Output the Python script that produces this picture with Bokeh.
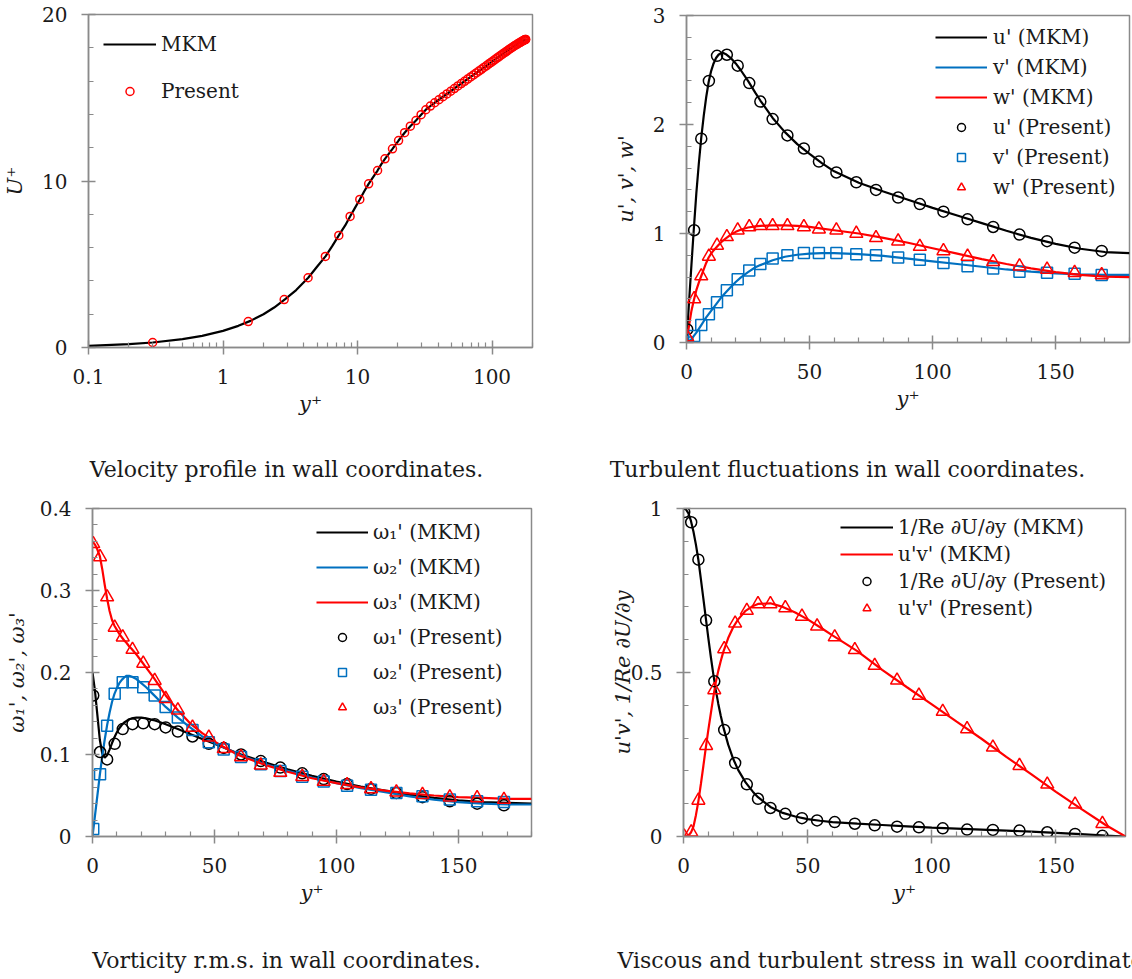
from bokeh.plotting import figure
from bokeh.layouts import column, row
from bokeh.models import FixedTicker, CustomJSTickFormatter, Legend, LegendItem, Label
from bokeh.embed import file_html
from bokeh.resources import INLINE

FONT = "DejaVu Serif"
BLACK = "#000000"
BLUE = "#0070C0"
RED = "#FF0000"
GRAY = "#8a8a8a"
TEXT = "#1a1a1a"

# ---------------- mean velocity profile ----------------
u_mkm_y = [0.1, 0.2, 0.3, 0.5, 0.7, 1.0, 1.3, 1.6, 2.0, 2.4, 2.9, 3.5, 4.3, 5.0, 5.8, 6.5,
           7.3, 8.1, 8.8, 9.6, 10.4, 11.2, 12.1, 13.1, 14.1, 15.0, 16.0, 18.2, 20.2, 22.4,
           24.7, 27.2, 29.7, 32.2, 37.5, 43.2, 49.3, 55.8, 62.5, 69.4, 76.4, 83.5, 90.7,
           97.9, 105.1, 112.3, 119.5, 126.7, 133.9, 141.1, 148.3, 155.5, 162.4, 168.8,
           174.1, 178.0]
u_mkm = [0.1, 0.2, 0.3, 0.5, 0.7, 1.0, 1.3, 1.6, 2.0, 2.4, 2.9, 3.45, 4.19, 4.85, 5.49, 6.1,
         6.76, 7.33, 7.87, 8.4, 8.89, 9.37, 9.83, 10.25, 10.63, 11.0, 11.33, 11.93, 12.43,
         12.9, 13.29, 13.63, 13.98, 14.28, 14.7, 15.06, 15.39, 15.71, 15.99, 16.25, 16.49,
         16.71, 16.92, 17.11, 17.29, 17.46, 17.62, 17.76, 17.9, 18.02, 18.14, 18.24, 18.33,
         18.41, 18.47, 18.5]
u_pre_y = [0.30, 1.54, 2.85, 4.29, 5.77, 7.26, 8.81, 10.4, 12.1, 14.1, 16.0, 18.2, 20.2,
           22.4, 24.7, 27.2, 29.7, 32.2, 34.8, 37.5, 40.3, 43.2, 46.2, 49.3, 52.5, 55.8,
           59.1, 62.5, 65.9, 69.4, 72.9, 76.4, 79.9, 83.5, 87.1, 90.7, 94.3, 97.9, 101.5,
           105.1, 108.7, 112.3, 115.9, 119.5, 123.1, 126.7, 130.3, 133.9, 137.5, 141.1,
           144.7, 148.3, 151.9, 155.5, 159.0, 162.4, 165.7, 168.8, 171.6, 174.1, 176.1,
           177.4, 178.0]
u_pre = [0.30, 1.56, 2.88, 4.19, 5.47, 6.73, 7.87, 8.89, 9.83, 10.63, 11.33, 11.93, 12.43,
         12.90, 13.29, 13.63, 13.98, 14.28, 14.5, 14.7, 14.88, 15.06, 15.23, 15.39, 15.55,
         15.71, 15.85, 15.99, 16.12, 16.25, 16.37, 16.49, 16.6, 16.71, 16.82, 16.92, 17.02,
         17.11, 17.2, 17.29, 17.38, 17.46, 17.54, 17.62, 17.69, 17.76, 17.83, 17.9, 17.96,
         18.02, 18.08, 18.14, 18.19, 18.24, 18.29, 18.33, 18.37, 18.41, 18.44, 18.47, 18.49,
         18.5, 18.5]

# ---------------- wall-normal stations ----------------
# reference (MKM) curves
ym = [0, 1, 2, 3, 4, 5, 6, 7, 8, 9, 10, 11, 12, 13, 14, 15, 16, 18, 20, 22, 25, 28, 30, 35,
      40, 45, 50, 55, 60, 70, 80, 90, 100, 110, 120, 130, 140, 150, 160, 170, 180]
ys = [0, 1, 2, 3, 4, 5, 6, 7, 8, 9, 10, 11, 12, 13, 14, 15, 16, 18, 20, 22, 25, 28, 30, 35,
      40, 45, 50, 55, 60, 70, 80, 90, 100, 110, 120, 130, 140, 150, 160, 170, 178]
# present simulation
yp = [0.3, 3.1, 6.0, 9.1, 12.4, 16.4, 20.8, 25.5, 30.0, 35.0, 41.0, 47.7, 53.8, 60.9, 69.0,
      77.0, 86.0, 94.8, 104.4, 114.2, 124.6, 135.3, 146.5, 157.7, 168.7]

# ---------------- velocity fluctuations ----------------
u_rms_mkm = [0, 0.36, 0.71, 1.05, 1.37, 1.64, 1.88, 2.08, 2.25, 2.39, 2.49, 2.56, 2.61, 2.64,
             2.655, 2.655, 2.645, 2.61, 2.56, 2.5, 2.4, 2.29, 2.22, 2.06, 1.93, 1.82, 1.73,
             1.645, 1.57, 1.465, 1.385, 1.31, 1.235, 1.165, 1.095, 1.025, 0.96, 0.905, 0.86,
             0.83, 0.82]
v_rms_mkm = [0, 0.01, 0.03, 0.06, 0.09, 0.125, 0.16, 0.195, 0.23, 0.26, 0.29, 0.32, 0.35,
             0.38, 0.41, 0.435, 0.46, 0.51, 0.555, 0.595, 0.645, 0.69, 0.71, 0.755, 0.787,
             0.805, 0.815, 0.82, 0.82, 0.81, 0.795, 0.77, 0.745, 0.72, 0.695, 0.67, 0.65,
             0.635, 0.625, 0.62, 0.62]
w_rms_mkm = [0, 0.15, 0.29, 0.39, 0.48, 0.55, 0.61, 0.67, 0.73, 0.78, 0.815, 0.845, 0.87,
             0.895, 0.918, 0.938, 0.956, 0.99, 1.015, 1.035, 1.055, 1.065, 1.07, 1.075, 1.075,
             1.07, 1.06, 1.045, 1.03, 1.0, 0.96, 0.915, 0.865, 0.815, 0.765, 0.72, 0.68,
             0.645, 0.62, 0.605, 0.6]
u_rms_pre = [0.12, 1.03, 1.87, 2.40, 2.63, 2.64, 2.54, 2.38, 2.21, 2.05, 1.90, 1.78, 1.66,
             1.56, 1.47, 1.40, 1.33, 1.27, 1.20, 1.13, 1.06, 0.99, 0.93, 0.87, 0.84]
v_rms_pre = [0.00, 0.06, 0.16, 0.26, 0.37, 0.48, 0.58, 0.66, 0.72, 0.77, 0.80, 0.82, 0.82,
             0.82, 0.81, 0.80, 0.78, 0.76, 0.73, 0.70, 0.68, 0.65, 0.64, 0.63, 0.62]
w_rms_pre = [0.05, 0.40, 0.61, 0.79, 0.89, 0.97, 1.03, 1.06, 1.07, 1.07, 1.07, 1.06, 1.04,
             1.03, 1.00, 0.96, 0.93, 0.88, 0.84, 0.79, 0.74, 0.70, 0.67, 0.64, 0.62]

# ---------------- vorticity fluctuations ----------------
om1_mkm = [0.2, 0.178, 0.148, 0.118, 0.101, 0.096, 0.099, 0.106, 0.114, 0.121, 0.127, 0.132,
           0.136, 0.139, 0.141, 0.143, 0.144, 0.145, 0.145, 0.144, 0.142, 0.139, 0.137,
           0.131, 0.125, 0.119, 0.113, 0.107, 0.101, 0.091, 0.082, 0.074, 0.067, 0.061,
           0.056, 0.051, 0.047, 0.044, 0.042, 0.041, 0.04]
om2_mkm = [0.0, 0.025, 0.05, 0.075, 0.098, 0.118, 0.136, 0.151, 0.164, 0.174, 0.181, 0.187,
           0.191, 0.194, 0.196, 0.196, 0.195, 0.192, 0.187, 0.182, 0.173, 0.164, 0.158,
           0.145, 0.133, 0.122, 0.114, 0.107, 0.1, 0.089, 0.08, 0.072, 0.065, 0.059, 0.054,
           0.049, 0.045, 0.042, 0.04, 0.039, 0.039]
om3_mkm = [0.36, 0.356, 0.35, 0.342, 0.326, 0.307, 0.29, 0.275, 0.264, 0.257, 0.252, 0.247,
           0.243, 0.239, 0.236, 0.232, 0.229, 0.222, 0.214, 0.206, 0.194, 0.181, 0.172,
           0.154, 0.138, 0.126, 0.116, 0.107, 0.099, 0.088, 0.079, 0.071, 0.065, 0.06,
           0.056, 0.0525, 0.05, 0.048, 0.047, 0.046, 0.046]
om1_pre = [0.172, 0.103, 0.094, 0.113, 0.131, 0.137, 0.138, 0.137, 0.133, 0.128, 0.122,
           0.113, 0.108, 0.100, 0.092, 0.084, 0.077, 0.070, 0.064, 0.058, 0.053, 0.048,
           0.043, 0.040, 0.038]
om2_pre = [0.009, 0.076, 0.135, 0.174, 0.188, 0.188, 0.182, 0.172, 0.158, 0.145, 0.130,
           0.115, 0.106, 0.097, 0.088, 0.080, 0.073, 0.067, 0.062, 0.057, 0.053, 0.049,
           0.045, 0.043, 0.042]
om3_pre = [0.357, 0.341, 0.292, 0.255, 0.243, 0.228, 0.211, 0.190, 0.168, 0.154, 0.133,
           0.121, 0.107, 0.097, 0.087, 0.078, 0.073, 0.067, 0.063, 0.058, 0.054, 0.051,
           0.048, 0.047, 0.045]

# ---------------- shear stress budget ----------------
visc_mkm = [1.0, 0.997, 0.985, 0.962, 0.93, 0.89, 0.843, 0.785, 0.725, 0.665, 0.605, 0.548,
            0.495, 0.447, 0.405, 0.368, 0.335, 0.28, 0.237, 0.203, 0.165, 0.136, 0.12, 0.09,
            0.072, 0.061, 0.053, 0.048, 0.044, 0.039, 0.035, 0.031, 0.027, 0.024, 0.021,
            0.018, 0.015, 0.011, 0.007, 0.003, 0.0]
uv_mkm = [0.0, 0.0, 0.003, 0.012, 0.03, 0.065, 0.108, 0.16, 0.215, 0.272, 0.325, 0.375,
          0.425, 0.47, 0.505, 0.535, 0.562, 0.605, 0.638, 0.662, 0.688, 0.703, 0.709, 0.711,
          0.7, 0.683, 0.662, 0.638, 0.613, 0.565, 0.508, 0.455, 0.403, 0.35, 0.298, 0.243,
          0.19, 0.136, 0.085, 0.035, 0.0]
visc_pre = [0.989, 0.958, 0.844, 0.659, 0.473, 0.325, 0.224, 0.159, 0.115, 0.087, 0.069,
            0.056, 0.049, 0.044, 0.039, 0.034, 0.030, 0.028, 0.025, 0.021, 0.020, 0.018,
            0.013, 0.008, 0.002]
uv_pre = [0.0, 0.013, 0.11, 0.277, 0.447, 0.572, 0.650, 0.689, 0.709, 0.709, 0.697, 0.671,
          0.641, 0.608, 0.569, 0.521, 0.476, 0.430, 0.381, 0.328, 0.272, 0.216, 0.159,
          0.098, 0.039]

captions = ["Velocity profile in wall coordinates.",
            "Turbulent fluctuations in wall coordinates.",
            "Vorticity r.m.s. in wall coordinates.",
            "Viscous and turbulent stress in wall coordinates."]

fmt_code = "return String(Math.round(tick * 1000) / 1000);"


def make_fig(x_range, y_range, borders, height, x_axis_type="linear"):
    left, right, top, bottom = borders
    return figure(width=566, height=height, x_range=x_range, y_range=y_range,
                  x_axis_type=x_axis_type, output_backend="svg", toolbar_location=None,
                  min_border_left=left, min_border_right=right,
                  min_border_top=top, min_border_bottom=bottom,
                  background_fill_color="white", border_fill_color="white")


def style(p, xlabel, ylabel, xticks, xminor, yticks, yminor, ylabel_standoff, xlabel_standoff):
    p.grid.visible = False
    p.outline_line_color = GRAY
    p.outline_line_width = 1.5
    for ax in (p.xaxis[0], p.yaxis[0]):
        ax.axis_line_color = GRAY
        ax.axis_line_width = 1.5
        ax.major_tick_line_color = GRAY
        ax.major_tick_line_width = 1.5
        ax.minor_tick_line_color = GRAY
        ax.minor_tick_line_width = 1.2
        ax.major_tick_in = 7
        ax.major_tick_out = 7
        ax.minor_tick_in = 5
        ax.minor_tick_out = 0
        ax.major_label_text_font = FONT
        ax.major_label_text_font_size = "20px"
        ax.major_label_text_color = TEXT
        ax.major_label_standoff = 14
        ax.axis_label_text_font = FONT
        ax.axis_label_text_font_style = "italic"
        ax.axis_label_text_font_size = "21px"
        ax.axis_label_text_color = TEXT
        ax.formatter = CustomJSTickFormatter(code=fmt_code)
    p.xaxis[0].axis_label = xlabel
    p.yaxis[0].axis_label = ylabel
    p.xaxis[0].axis_label_standoff = xlabel_standoff
    p.yaxis[0].axis_label_standoff = ylabel_standoff
    p.xaxis[0].ticker = FixedTicker(ticks=xticks, minor_ticks=xminor)
    p.yaxis[0].ticker = FixedTicker(ticks=yticks, minor_ticks=yminor)


def add_legend(p, items, loc, glyph_w, gap, standoff):
    leg = Legend(items=items, location=loc, orientation="vertical",
                 glyph_width=glyph_w, glyph_height=20, label_height=20,
                 spacing=gap, label_standoff=standoff, padding=0, margin=0,
                 border_line_color=None, background_fill_alpha=0,
                 label_text_font=FONT, label_text_font_size="20px",
                 label_text_color=TEXT)
    p.add_layout(leg)


def caption_strip(text, x, baseline, align="center"):
    c = figure(width=566, height=50, x_range=(0, 1), y_range=(0, 1),
               x_axis_location=None, y_axis_location=None, output_backend="svg",
               toolbar_location=None, min_border_left=0, min_border_right=0,
               min_border_top=0, min_border_bottom=0, outline_line_color=None,
               border_fill_color="white", background_fill_color="white")
    c.grid.visible = False
    c.add_layout(Label(x=x, y=baseline, x_units="screen", y_units="screen", text=text,
                       text_align=align, text_baseline="alphabetic", text_font=FONT,
                       text_font_size="22px", text_color=TEXT))
    return c


lin10 = [v for v in range(0, 181, 10) if v % 50 != 0]

# ---- panel 1: U+ (log axis) ----
p1 = make_fig((0.1, 200), (0, 20), (87, 34, 14, 93), 440, x_axis_type="log")
log_minor = [m * d for d in (0.1, 1, 10) for m in range(2, 10)] + [200]
style(p1, "y⁺", "U⁺", [0.1, 1, 10, 100], log_minor, [0, 10, 20], [2, 4, 6, 8, 12, 14, 16, 18],
      12, 5)
l1 = p1.line(u_mkm_y, u_mkm, line_color=BLACK, line_width=2.2)
s1 = p1.scatter(u_pre_y, u_pre, marker="circle", size=8, fill_color=None, line_color=RED,
                line_width=1.5)
add_legend(p1, [LegendItem(label="MKM", renderers=[l1]),
                LegendItem(label="Present", renderers=[s1])], (15, 244), 53, 23, 5)

# ---- panel 2: velocity fluctuations ----
p2 = make_fig((0, 180), (0, 3), (120, 3, 15, 98), 440)
style(p2, "y⁺", "u', v', w'", [0, 50, 100, 150], lin10, [0, 1, 2, 3],
      [0.2, 0.4, 0.6, 0.8, 1.2, 1.4, 1.6, 1.8, 2.2, 2.4, 2.6, 2.8], 12, 5)
lu = p2.line(ym, u_rms_mkm, line_color=BLACK, line_width=2.2)
lv = p2.line(ym, v_rms_mkm, line_color=BLUE, line_width=2.2)
lw = p2.line(ym, w_rms_mkm, line_color=RED, line_width=2.2)
su = p2.scatter(yp, u_rms_pre, marker="circle", size=11, fill_color=None, line_color=BLACK,
                line_width=1.5)
sv = p2.scatter(yp, v_rms_pre, marker="square", size=11, fill_color=None, line_color=BLUE,
                line_width=1.5)
sw = p2.scatter(yp, w_rms_pre, marker="triangle", size=13, fill_color=None, line_color=RED,
                line_width=1.5)
add_legend(p2, [LegendItem(label="u' (MKM)", renderers=[lu]),
                LegendItem(label="v' (MKM)", renderers=[lv]),
                LegendItem(label="w' (MKM)", renderers=[lw]),
                LegendItem(label="u' (Present)", renderers=[su]),
                LegendItem(label="v' (Present)", renderers=[sv]),
                LegendItem(label="w' (Present)", renderers=[sw])], (249, 143), 52, 6, 6)

# ---- panel 3: vorticity fluctuations ----
p3 = make_fig((0, 180), (0, 0.4), (92, 35, 18, 93), 439)
om_minor = [0.02, 0.04, 0.06, 0.08, 0.12, 0.14, 0.16, 0.18, 0.22, 0.24, 0.26, 0.28,
            0.32, 0.34, 0.36, 0.38]
style(p3, "y⁺", "ω₁', ω₂', ω₃'", [0, 50, 100, 150], lin10, [0, 0.1, 0.2, 0.3, 0.4],
      om_minor, 8, 5)
lo1 = p3.line(ym, om1_mkm, line_color=BLACK, line_width=2.2)
lo2 = p3.line(ym, om2_mkm, line_color=BLUE, line_width=2.2)
lo3 = p3.line(ym, om3_mkm, line_color=RED, line_width=2.2)
so1 = p3.scatter(yp, om1_pre, marker="circle", size=11, fill_color=None, line_color=BLACK,
                 line_width=1.5)
so2 = p3.scatter(yp, om2_pre, marker="square", size=11, fill_color=None, line_color=BLUE,
                 line_width=1.5)
so3 = p3.scatter(yp, om3_pre, marker="triangle", size=13, fill_color=None, line_color=RED,
                 line_width=1.5)
add_legend(p3, [LegendItem(label="ω₁' (MKM)", renderers=[lo1]),
                LegendItem(label="ω₂' (MKM)", renderers=[lo2]),
                LegendItem(label="ω₃' (MKM)", renderers=[lo3]),
                LegendItem(label="ω₁' (Present)", renderers=[so1]),
                LegendItem(label="ω₂' (Present)", renderers=[so2]),
                LegendItem(label="ω₃' (Present)", renderers=[so3])], (224, 117), 52, 11, 5)

# ---- panel 4: viscous and turbulent stress ----
p4 = make_fig((0, 178), (0, 1), (117, 7, 18, 93), 439)
style(p4, "y⁺", "u'v', 1/Re ∂U/∂y", [0, 50, 100, 150], lin10, [0, 0.5, 1],
      [0.1, 0.2, 0.3, 0.4, 0.6, 0.7, 0.8, 0.9], -7, 5)
lvis = p4.line(ys, visc_mkm, line_color=BLACK, line_width=2.2)
luv = p4.line(ys, uv_mkm, line_color=RED, line_width=2.2)
svis = p4.scatter(yp, visc_pre, marker="circle", size=11, fill_color=None, line_color=BLACK,
                  line_width=1.5)
suv = p4.scatter(yp, uv_pre, marker="triangle", size=13, fill_color=None, line_color=RED,
                 line_width=1.5)
add_legend(p4, [LegendItem(label="1/Re ∂U/∂y (MKM)", renderers=[lvis]),
                LegendItem(label="u'v' (MKM)", renderers=[luv]),
                LegendItem(label="1/Re ∂U/∂y (Present)", renderers=[svis]),
                LegendItem(label="u'v' (Present)", renderers=[suv])], (157, 216), 53, 3, 5)

# ---- figure captions ----
c1 = caption_strip(captions[0], 286, 21)
c2 = caption_strip(captions[1], 281, 21)
c3 = caption_strip(captions[2], 286, 19)
c4 = caption_strip(captions[3], 51, 19, align="left")

# each plot sits in its own column so the frames keep their own extents
page = column(row(column(p1), column(p2)), row(c1, c2),
              row(column(p3), column(p4)), row(c3, c4))

with open("out.html", "w") as f:
    f.write(file_html(page, INLINE))
